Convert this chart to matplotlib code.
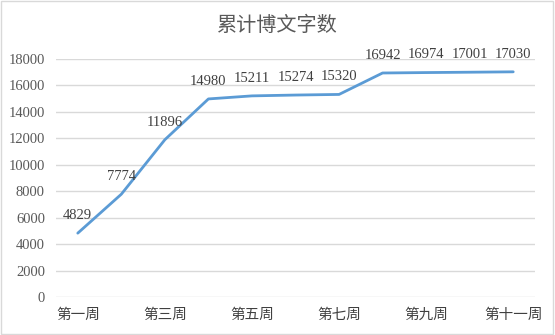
import matplotlib
matplotlib.use("Agg")
import matplotlib.pyplot as plt
from matplotlib.patches import Rectangle

weeks = ["第一周", "第二周", "第三周", "第四周", "第五周", "第六周",
         "第七周", "第八周", "第九周", "第十周", "第十一周"]
words = [4829, 7774, 11896, 14980, 15211, 15274, 15320, 16942, 16974, 17001, 17030]
y_ticks = [0, 2000, 4000, 6000, 8000, 10000, 12000, 14000, 16000, 18000]

cjk = ["Noto Sans CJK SC", "DejaVu Sans"]
num_font = ["Liberation Serif", "DejaVu Serif"]

fig = plt.figure(figsize=(5.55, 3.35), dpi=100)
fig.patches.append(Rectangle((0.002, 0.003), 0.995, 0.994, transform=fig.transFigure,
                             fill=False, edgecolor="#D9D9D9", linewidth=1))
ax = fig.add_axes([56 / 555, 38 / 335, 479 / 555, 238 / 335])

x = list(range(len(weeks)))
ax.plot(x, words, color="#5B9BD5", linewidth=2.0, solid_capstyle="round")
for xi, v in zip(x, words):
    ax.annotate(str(v), (xi, v), xytext=(0, 8), textcoords="offset points",
                ha="center", va="bottom", fontsize=10.5, family=num_font, color="#404040")

ax.set_xlim(-0.5, len(weeks) - 0.5)
ax.set_ylim(0, 18000)
ax.set_yticks(y_ticks)
ax.set_yticklabels([str(t) for t in y_ticks], family=num_font, fontsize=10.5, color="#595959")
ax.set_xticks(x[::2])
ax.set_xticklabels(weeks[::2], family=cjk, fontsize=10.5, color="#404040")
ax.tick_params(axis="y", length=0, pad=8)
ax.tick_params(axis="x", length=0, pad=8)
ax.grid(axis="y", color="#D9D9D9", linewidth=1)
ax.set_axisbelow(True)
for s in ax.spines.values():
    s.set_visible(False)

fig.text(0.5, 0.925, "累计博文字数", ha="center", va="center", fontsize=14.5,
         family=cjk, color="#595959")

fig.savefig("out.png", dpi=100)
